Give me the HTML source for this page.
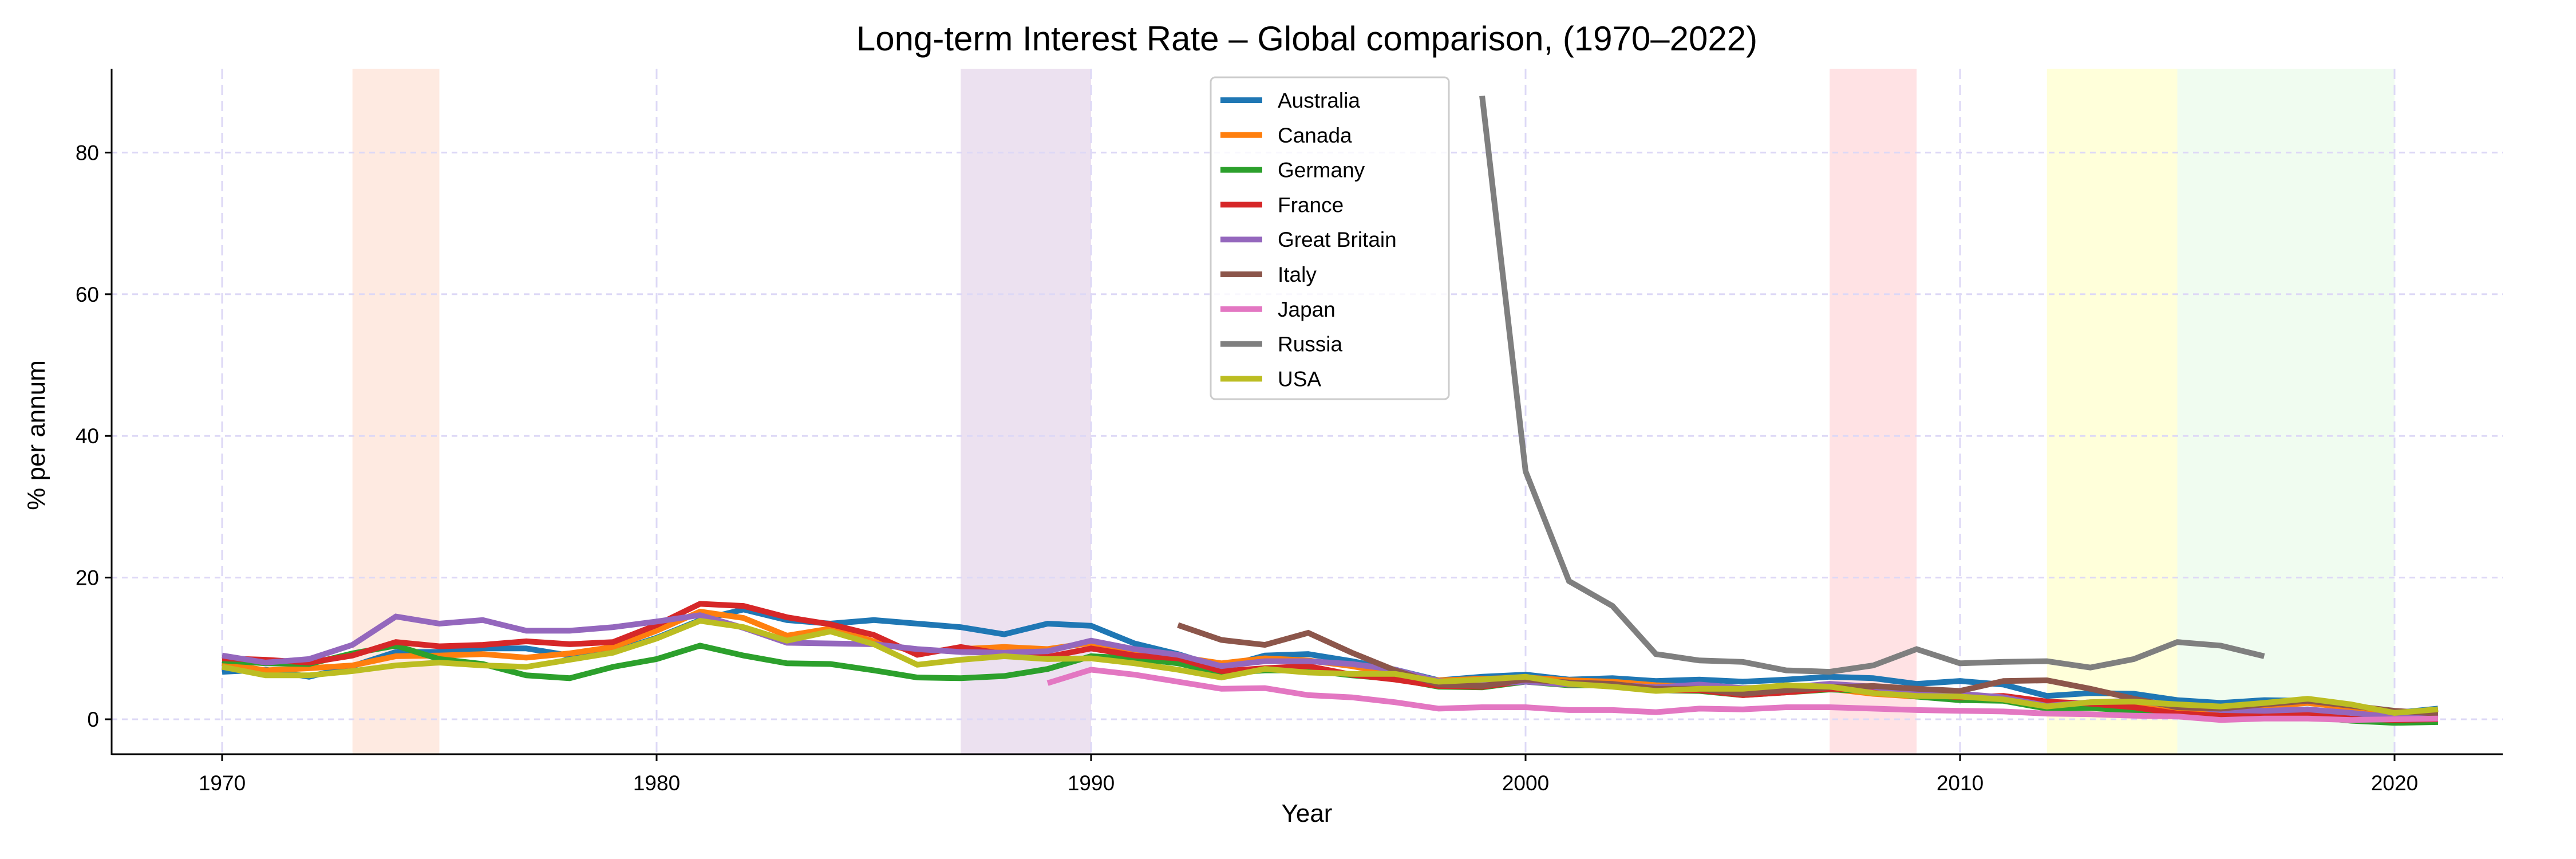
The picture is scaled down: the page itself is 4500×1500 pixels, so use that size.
<!DOCTYPE html>
<html><head><meta charset="utf-8"><style>
html,body{margin:0;padding:0;background:#fff;}
svg{display:block;font-family:"Liberation Sans",sans-serif;}
</style></head><body>
<svg id="chart" width="4500" height="1500" viewBox="0 0 4500 1500" xmlns="http://www.w3.org/2000/svg">
<text x="2283" y="88" font-size="60" text-anchor="middle" fill="#000">Long-term Interest Rate – Global comparison, (1970–2022)</text>
<g id="bands"></g><g id="grid"></g><g id="lines"></g><g id="axes"></g><g id="legend"></g>
<text x="2283" y="1435" font-size="44" text-anchor="middle">Year</text>
<text transform="translate(78,760) rotate(-90)" font-size="44" text-anchor="middle">% per annum</text>
</svg>
<script>
const names=["Australia","Canada","Germany","France","Great Britain","Italy","Japan","Russia","USA"];
const colors=["#1f77b4","#ff7f0e","#2ca02c","#d62728","#9467bd","#8c564b","#e377c2","#7f7f7f","#bcbd22"];
const startYears=[1970,1970,1970,1970,1970,1992,1989,1999,1970];
const australia=[6.7,7,6,7.5,9.5,9.5,10,10,9,9.5,11.5,14,15.5,14,13.5,14,13.5,13,12,13.5,13.2,10.7,9.2,7.3,9,9.2,8.2,7,5.5,6,6.3,5.6,5.8,5.4,5.6,5.3,5.6,6,5.8,5,5.4,4.9,3.3,3.7,3.6,2.7,2.3,2.7,2.6,1.4,0.9,1.5];
const canada=[7.9,6.9,7.2,7.6,8.9,9,9.2,8.7,9.3,10.2,12.5,15.2,14.3,11.8,12.8,11,9.5,9.9,10.2,9.9,10.8,9.8,8.8,7.9,8.6,8.3,7.5,6.4,5.5,5.7,5.9,5.5,5.3,4.8,4.6,4.1,4.2,4.3,3.6,3.2,3.2,2.8,1.9,2.3,2.2,1.5,1.3,1.8,2.3,1.6,0.7,1.4];
const germany=[8.3,7.9,7.8,9.3,10.4,8.5,7.8,6.2,5.8,7.4,8.5,10.4,9,7.9,7.8,6.9,5.9,5.8,6.1,7.1,8.9,8.6,7.9,6.5,6.9,6.9,6.2,5.7,4.6,4.5,5.3,4.8,4.8,4.1,4,3.4,3.8,4.2,4,3.2,2.7,2.6,1.5,1.6,1.2,0.5,0.1,0.3,0.4,-0.2,-0.5,-0.4];
const france=[8.6,8.4,8,9,10.9,10.3,10.5,11,10.6,10.9,13.3,16.3,16,14.4,13.4,11.9,9.1,10.2,9.2,8.8,10,9,8.6,6.8,7.2,7.5,6.3,5.6,4.7,4.6,5.4,4.9,4.9,4.1,4.1,3.4,3.8,4.3,4.2,3.6,3.1,3.3,2.5,2.2,1.7,0.8,0.5,0.8,0.8,0.1,-0.1,0];
const britain=[9,8,8.5,10.5,14.5,13.5,14,12.5,12.5,13,13.8,14.7,12.9,10.8,10.7,10.6,9.9,9.5,9.4,9.6,11.1,9.9,9.1,7.5,8.2,8.2,7.8,7,5.4,5,5.3,4.9,4.9,4.5,4.9,4.4,4.5,5,4.6,3.6,3.6,3.1,1.9,2.4,2.6,1.9,1.3,1.2,1.4,0.9,0.3,0.8];
const italy=[13.3,11.2,10.5,12.2,9.4,6.9,4.9,4.7,5.6,5.2,5,4.3,4.3,3.6,4.1,4.5,4.7,4.3,4,5.4,5.5,4.3,2.9,1.7,1.5,2.1,2.6,1.9,1.2,0.8];
const japan=[5.1,7,6.3,5.3,4.3,4.4,3.4,3.1,2.4,1.5,1.7,1.7,1.3,1.3,1,1.5,1.4,1.7,1.7,1.5,1.3,1.2,1.1,0.8,0.7,0.5,0.4,-0.1,0.1,0.1,-0.1,0,0.1];
const russia=[88,35,19.5,16,9.2,8.3,8.1,6.9,6.7,7.6,9.9,7.9,8.1,8.2,7.3,8.5,10.9,10.4,8.9];
const usa=[7.4,6.2,6.2,6.8,7.6,8,7.6,7.4,8.4,9.4,11.4,13.9,13,11.1,12.4,10.6,7.7,8.4,8.9,8.5,8.6,7.9,7,5.9,7.1,6.6,6.4,6.4,5.3,5.6,6,5,4.6,4,4.3,4.3,4.8,4.6,3.7,3.3,3.2,2.8,1.8,2.4,2.5,2.1,1.8,2.3,2.9,2.1,0.9,1.4];
const series=[australia,canada,germany,france,britain,italy,japan,russia,usa];
const xTicks=[1970,1980,1990,2000,2010,2020];
const yTicks=[0,20,40,60,80];
const bandStarts=[1973,1987,2007,2012,2015];
const bandEnds=[1975,1990,2009,2015,2020];
const bandColors=["rgba(250,160,120,0.22)","rgba(150,90,170,0.18)","rgba(255,110,120,0.2)","rgba(255,255,150,0.35)","rgba(180,240,180,0.2)"];

const NS="http://www.w3.org/2000/svg";
const X0=195,X1=4372,YT=120,YB=1317;
const x=y=>388+(y-1970)*75.9;
const yv=v=>1256-v*12.37;
function mk(tag,attrs,parent){const e=document.createElementNS(NS,tag);for(const k in attrs)e.setAttribute(k,attrs[k]);parent.appendChild(e);return e;}
const bands=document.getElementById('bands');
bandStarts.forEach((s,i)=>{const r=mk('rect',{x:x(s),y:YT,width:x(bandEnds[i])-x(s),height:YB-YT,fill:bandColors[i]},bands);

});
const grid=document.getElementById('grid');
xTicks.forEach(t=>{const l=mk('line',{x1:x(t),x2:x(t),y1:YT,y2:YB,stroke:"#ddd8f6","stroke-width":3,"stroke-dasharray":"18 10"},grid);

});
yTicks.forEach(t=>{const l=mk('line',{x1:X0,x2:X1,y1:yv(t),y2:yv(t),stroke:"#ddd8f6","stroke-width":3,"stroke-dasharray":"10 8"},grid);

});
const lines=document.getElementById('lines');
series.forEach((d,i)=>{const pts=d.map((v,j)=>x(startYears[i]+j).toFixed(1)+','+yv(v).toFixed(1)).join(' ');
const p=mk('polyline',{points:pts,fill:"none",stroke:colors[i],"stroke-width":10,"stroke-linejoin":"miter"},lines);

});
const axes=document.getElementById('axes');
mk('line',{x1:X0,x2:X0,y1:YT,y2:YB+1,stroke:"#000","stroke-width":3},axes);
mk('line',{x1:X0,x2:X1,y1:YB,y2:YB,stroke:"#000","stroke-width":3},axes);
xTicks.forEach(t=>{mk('line',{x1:x(t),x2:x(t),y1:YB,y2:YB+12,stroke:"#000","stroke-width":3},axes);
const tx=mk('text',{x:x(t),y:1380,"font-size":37,"text-anchor":"middle"},axes);tx.textContent=t;

});
yTicks.forEach(t=>{mk('line',{x1:X0-12,x2:X0,y1:yv(t),y2:yv(t),stroke:"#000","stroke-width":3},axes);
const tx=mk('text',{x:X0-22,y:yv(t)+13,"font-size":37,"text-anchor":"end"},axes);tx.textContent=t;

});
const lg=document.getElementById('legend');


mk('rect',{x:2115,y:135,width:416,height:562,rx:8,fill:"rgba(255,255,255,0.8)",stroke:"#ccc","stroke-width":3},lg);
names.forEach((n,i)=>{const yy=175+i*60.8;const g=mk('g',{},lg);


mk('line',{x1:2132,x2:2205,y1:yy,y2:yy,stroke:colors[i],"stroke-width":10},g);
const t=mk('text',{x:2232,y:yy+13,"font-size":37},g);t.textContent=n;});
</script>
</body></html>
